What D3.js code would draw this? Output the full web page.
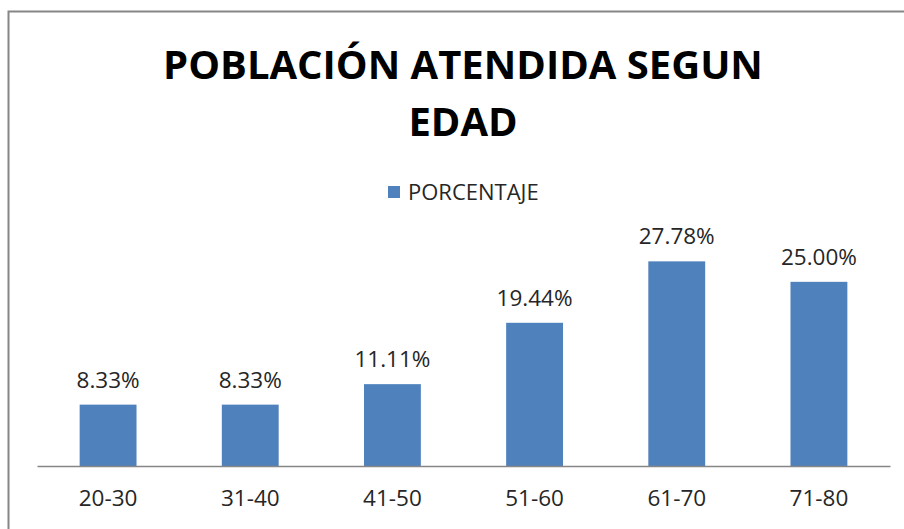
<!DOCTYPE html>
<html>
<head>
<meta charset="utf-8">
<script src="https://cdn.jsdelivr.net/npm/d3@7"></script>
<style>
  body { margin: 0; background: #fff; }
  text { font-family: "Open Sans", sans-serif; }
  .title { font-weight: bold; fill: #000; }
  .valLabel, .tickLabel, .legend { fill: #262626; }
</style>
</head>
<body>
<script>
// data
let categories = ["20-30", "31-40", "41-50", "51-60", "61-70", "71-80"];
let porcentaje = [8.33, 8.33, 11.11, 19.44, 27.78, 25.00];
let seriesName = "PORCENTAJE";
let titleLines = ["POBLACIÓN ATENDIDA SEGUN", "EDAD"];

let W = 904, H = 529;
let margin = {top: 245, right: 14, bottom: 63, left: 37};
let width = W - margin.left - margin.right;
let height = H - margin.top - margin.bottom;

let svg = d3.select("body").append("svg")
  .attr("width", W)
  .attr("height", H);

// chart frame (only top and left edges visible)
svg.append("path")
  .attr("d", "M8.5," + H + "V11.5H" + W)
  .attr("fill", "none")
  .attr("stroke", "#868686")
  .attr("stroke-width", 2);

let g = svg.append("g")
  .attr("transform", "translate(" + margin.left + "," + margin.top + ")");

let xScale = d3.scaleBand()
  .domain(categories)
  .range([0, width])
  .paddingInner(0.6)
  .paddingOuter(0.3);

let yScale = d3.scaleLinear()
  .domain([0, 30])
  .range([height, 0]);

// bars
g.selectAll(".bar")
  .data(porcentaje)
  .enter().append("rect")
  .attr("class", "bar")
  .attr("x", function(d, i) { return xScale(categories[i]); })
  .attr("y", function(d) { return yScale(d); })
  .attr("width", xScale.bandwidth())
  .attr("height", function(d) { return height - yScale(d); })
  .attr("fill", "#4f81bd");

// value labels
g.selectAll(".valLabel")
  .data(porcentaje)
  .enter().append("text")
  .attr("class", "valLabel")
  .attr("x", function(d, i) { return xScale(categories[i]) + xScale.bandwidth() / 2; })
  .attr("y", function(d) { return yScale(d) - 17; })
  .attr("text-anchor", "middle")
  .attr("font-size", 22.5)
  .text(function(d) { return d.toFixed(2) + "%"; });

// x axis
let xAxis = g.append("g")
  .attr("transform", "translate(0," + height + ")")
  .call(d3.axisBottom(xScale).tickSize(0).tickPadding(24));
xAxis.select(".domain").attr("stroke", "#868686").attr("stroke-width", 1.5);
xAxis.selectAll(".tick text")
  .attr("class", "tickLabel")
  .attr("font-size", 22.5)
  .attr("font-family", "Open Sans, sans-serif")
  .attr("fill", "#262626");

// legend
let lg = svg.append("g").attr("transform", "translate(388,186)");
lg.append("rect")
  .attr("width", 12).attr("height", 12)
  .attr("fill", "#4f81bd");
lg.append("text")
  .attr("class", "legend")
  .attr("x", 20)
  .attr("y", 14)
  .attr("font-size", 22)
  .text(seriesName);

// title
svg.selectAll(".title")
  .data(titleLines)
  .enter().append("text")
  .attr("class", "title")
  .attr("x", 463)
  .attr("y", function(d, i) { return 79 + i * 57; })
  .attr("text-anchor", "middle")
  .attr("font-size", 40)
  .text(function(d) { return d; });
</script>
</body>
</html>
